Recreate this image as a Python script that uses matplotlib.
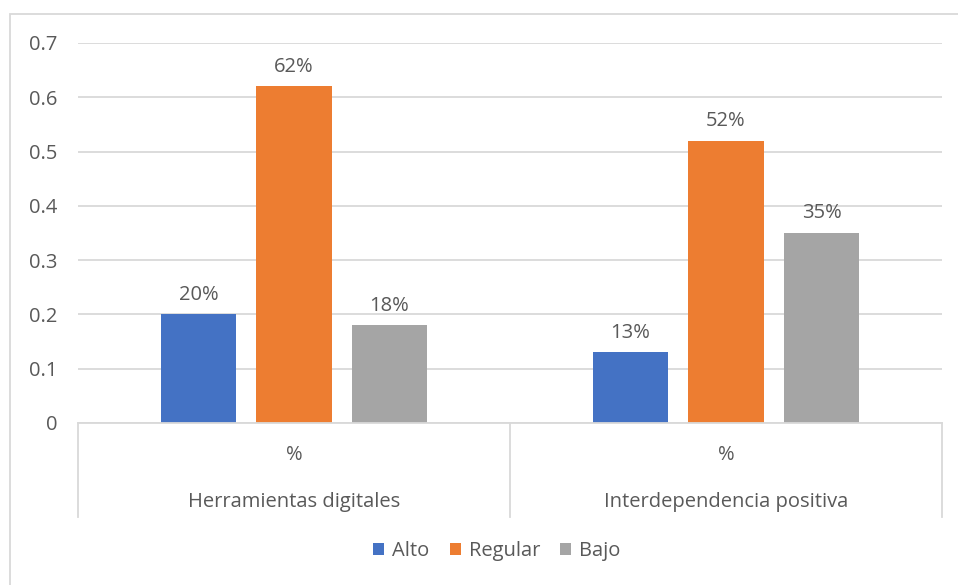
import matplotlib
matplotlib.use("Agg")
import matplotlib.pyplot as plt
from matplotlib.patches import Rectangle
from matplotlib.lines import Line2D
import numpy as np

categories = ["Herramientas digitales", "Interdependencia positiva"]
sub_label = "%"
series_names = ["Alto", "Regular", "Bajo"]
alto = [0.20, 0.13]
regular = [0.62, 0.52]
bajo = [0.18, 0.35]
yticks = [0, 0.1, 0.2, 0.3, 0.4, 0.5, 0.6, 0.7]
ytick_labels = ["0", "0.1", "0.2", "0.3", "0.4", "0.5", "0.6", "0.7"]

colors = ["#4472C4", "#ED7D31", "#A5A5A5"]
text_color = "#595959"
grid_color = "#D9D9D9"
plt.rcParams['font.family'] = ['Open Sans', 'DejaVu Sans']
FS = 14.5

fig = plt.figure(figsize=(9.58, 5.85), dpi=100)
fig.patches.append(Rectangle((10/958, -0.05), 1.0, (585-14)/585 + 0.05,
                             transform=fig.transFigure, fill=False,
                             edgecolor=grid_color, linewidth=1.3))
ax = fig.add_axes([78/958, 162/585, 864/958, 380/585])

centers = np.array([0.5, 1.5])
width = 0.174
step = 0.221
all_series = [alto, regular, bajo]
for i, (name, vals, c) in enumerate(zip(series_names, all_series, colors)):
    xs = centers + (i - 1) * step
    ax.bar(xs, vals, width=width, color=c, label=name, zorder=3)
    for x, v in zip(xs, vals):
        ax.annotate(f"{round(v*100)}%", (x, v), xytext=(0, 7), textcoords="offset points",
                    ha="center", va="bottom", fontsize=FS, color=text_color)

ax.set_xlim(0, 2)
ax.set_ylim(0, 0.7)
ax.set_yticks(yticks)
ax.set_yticklabels(ytick_labels)
ax.tick_params(axis='y', length=0, pad=15, labelsize=FS, labelcolor=text_color)
ax.set_xticks([])
ax.yaxis.grid(True, color=grid_color, linewidth=1.3, zorder=0)
for s in ["top", "right", "left"]:
    ax.spines[s].set_visible(False)
ax.spines["bottom"].set_color(grid_color)
ax.spines["bottom"].set_linewidth(1.3)
ax.spines["bottom"].set_zorder(4)

sep_bottom = -(517 - 423) / 380
for xv in [0, 1, 2]:
    ax.add_line(Line2D([xv, xv], [0, sep_bottom], transform=ax.get_xaxis_transform(),
                       color=grid_color, linewidth=1.3, clip_on=False))
for cx, cat in zip(centers, categories):
    ax.text(cx, -(455 - 423) / 380, sub_label, transform=ax.get_xaxis_transform(),
            ha="center", va="center", fontsize=FS, color=text_color)
    ax.text(cx, -(502 - 423) / 380, cat, transform=ax.get_xaxis_transform(),
            ha="center", va="center", fontsize=FS, color=text_color)

leg = fig.legend(loc="center", bbox_to_anchor=(497/958, 34/585), ncol=3, frameon=False,
                 fontsize=FS, handlelength=0.55, handleheight=0.55, handletextpad=0.4,
                 columnspacing=1.0)
for t in leg.get_texts():
    t.set_color(text_color)

fig.savefig("out.png", dpi=100)
